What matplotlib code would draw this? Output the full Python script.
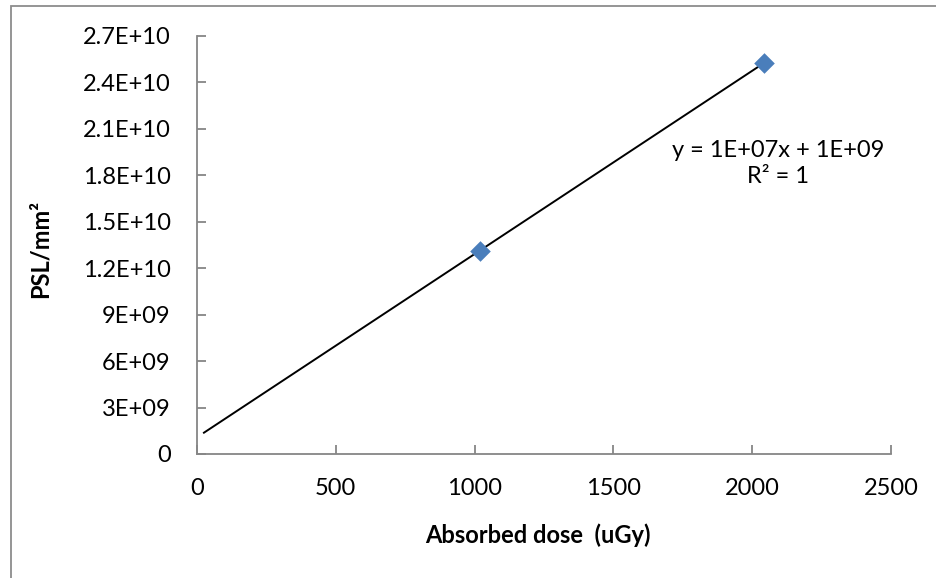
import matplotlib
matplotlib.use("Agg")
import matplotlib.pyplot as plt
from matplotlib.patches import Rectangle
import numpy as np

# Absorbed dose (uGy) and PSL/mm^2 readings
dose = [1018, 2041]
psl = [1.312e10, 2.522e10]

x_ticks = [0, 500, 1000, 1500, 2000, 2500]
y_ticks = [0, 3e9, 6e9, 9e9, 1.2e10, 1.5e10, 1.8e10, 2.1e10, 2.4e10, 2.7e10]
y_tick_labels = ["0", "3E+09", "6E+09", "9E+09", "1.2E+10", "1.5E+10",
                 "1.8E+10", "2.1E+10", "2.4E+10", "2.7E+10"]

trend_start = 25

plt.rcParams["font.family"] = ["Lato", "DejaVu Sans"]

fig = plt.figure(figsize=(9.36, 5.78), dpi=100)
ax = fig.add_axes([197 / 936, 1 - 454 / 578, (891 - 197) / 936, (454 - 35.7) / 578])

# chart-area border (left and top edges visible)
fig.patches.append(Rectangle((10.7 / 936, -0.1), 1.2, 1 - 6 / 578 + 0.1,
                             transform=fig.transFigure, fill=False,
                             edgecolor="#8c8c8c", linewidth=1.3))

# linear trend line
slope, intercept = np.polyfit(dose, psl, 1)
tx = np.array([trend_start, max(dose)])
ax.plot(tx, slope * tx + intercept, color="black", linewidth=1.4, zorder=2)

ax.scatter(dose, psl, marker="D", s=110, color="#4a7ebb", zorder=3, linewidths=0)

ax.set_xlim(0, 2500)
ax.set_ylim(0, 2.7e10)
ax.set_xticks(x_ticks)
ax.set_xticklabels([str(v) for v in x_ticks])
ax.set_yticks(y_ticks)
ax.set_yticklabels(y_tick_labels)

for side in ("top", "right"):
    ax.spines[side].set_visible(False)
for side in ("left", "bottom"):
    ax.spines[side].set_color("#868686")
    ax.spines[side].set_linewidth(1.3)

ax.tick_params(axis="both", direction="in", length=6.5, width=1.3, color="#868686",
               labelsize=17, labelcolor="black")
ax.tick_params(axis="y", pad=19)
ax.tick_params(axis="x", pad=17)

ax.set_xlabel("Absorbed dose  (uGy)", fontsize=17, fontweight="bold")
ax.xaxis.set_label_coords(0.491, -0.165)
ax.set_ylabel("PSL/mm²", fontsize=17, fontweight="bold")
ax.yaxis.set_label_coords(-0.209, 0.49)

ax.text(2093, 1.875e10, "y = 1E+07x + 1E+09\nR² = 1", fontsize=17,
        ha="center", va="center", linespacing=1.25)

fig.savefig("out.png", dpi=100)
